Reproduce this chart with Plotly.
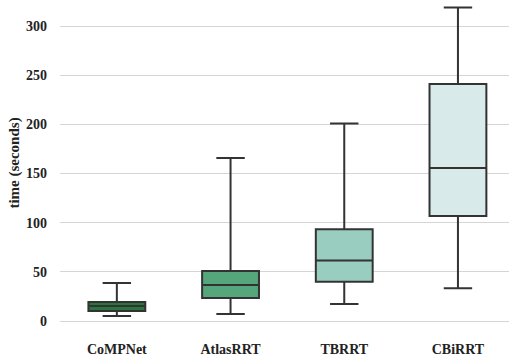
import plotly.graph_objects as go

categories = ["CoMPNet", "AtlasRRT", "TBRRT", "CBiRRT"]
lower_whisker = [5.1, 7.1, 17.3, 33.3]
q1_values = [10.3, 23.4, 40.0, 106.8]
median_values = [15.3, 36.6, 61.7, 155.6]
q3_values = [19.4, 50.9, 93.3, 241.0]
upper_whisker = [38.7, 165.8, 201.0, 319.0]
colors = ["#2a7440", "#55a67b", "#98cdbf", "#d8eaea"]

tick_vals = [0, 50, 100, 150, 200, 250, 300]

fig = go.Figure()
for i, cat in enumerate(categories):
    fig.add_trace(go.Box(
        x=[cat],
        lowerfence=[lower_whisker[i]],
        q1=[q1_values[i]],
        median=[median_values[i]],
        q3=[q3_values[i]],
        upperfence=[upper_whisker[i]],
        fillcolor=colors[i],
        line=dict(color="#333333", width=2),
        width=0.5,
        whiskerwidth=0.5,
        boxpoints=False,
        showlegend=False,
        hoverinfo="skip",
    ))

font_family = "Liberation Serif"
fig.update_layout(
    width=509, height=358,
    margin=dict(l=60, r=0, t=0, b=32),
    paper_bgcolor="white",
    plot_bgcolor="white",
    boxmode="overlay",
    font=dict(family=font_family, color="#222222"),
    xaxis=dict(
        type="category",
        categoryorder="array",
        categoryarray=categories,
        range=[-0.5, 3.449],
        automargin=False,
        showgrid=False,
        showline=False,
        zeroline=False,
        ticks="",
        ticklabelstandoff=13,
        tickfont=dict(family=font_family, size=14, color="#222222", weight="bold"),
    ),
    yaxis=dict(
        range=[-5, 326.5],
        automargin=False,
        tickvals=tick_vals,
        showgrid=True,
        gridcolor="#d5d5d5",
        gridwidth=1,
        zeroline=False,
        showline=False,
        ticks="",
        ticklabelstandoff=12,
        tickfont=dict(family=font_family, size=14, color="#222222", weight="bold"),
        title=dict(text="time (seconds)", standoff=2,
                   font=dict(family=font_family, size=15, color="#222222", weight="bold")),
    ),
)

fig.write_html(
    "out.html",
    config={"displayModeBar": False},
    post_script="document.body.style.margin='0';document.body.style.overflow='hidden';",
)
